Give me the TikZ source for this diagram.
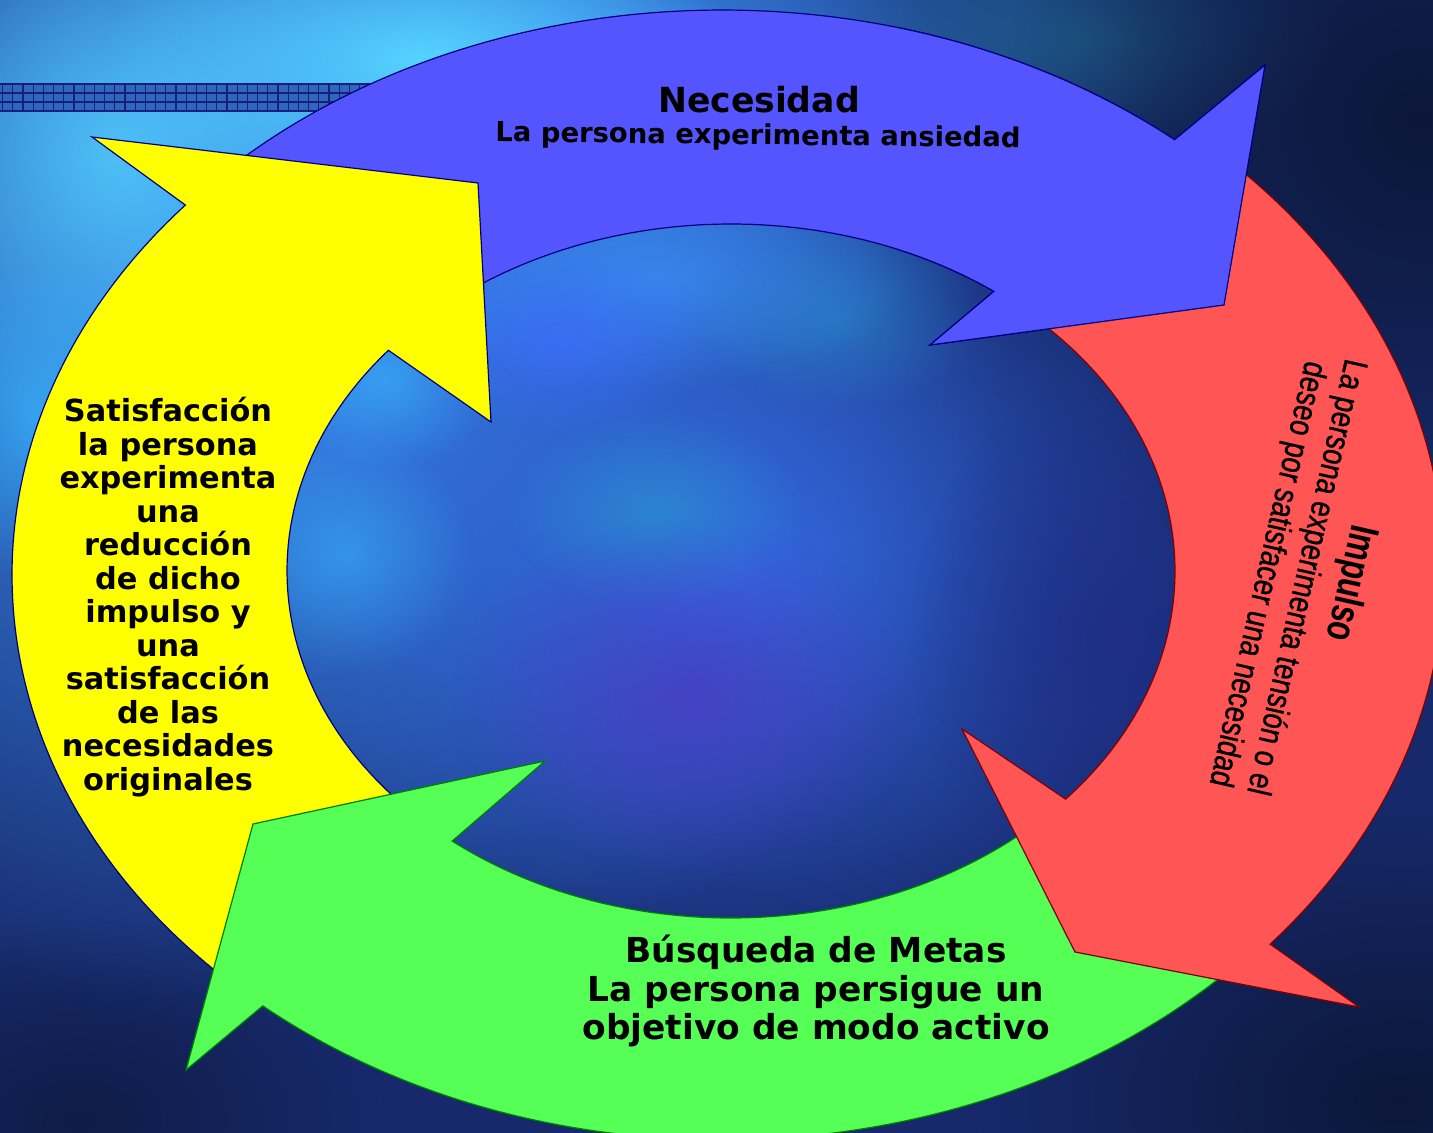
\documentclass[tikz,border=0pt]{standalone}
\usepackage{fontspec}
\newfontfamily\widesans{DejaVu Sans}
\newfontfamily\narrowsans[FakeStretch=0.81,FakeBold=0.8]{Liberation Sans}
\newfontfamily\narrowsansbold[FakeStretch=0.75]{Liberation Sans Bold}
\usetikzlibrary{fadings}

\definecolor{bgnavy}{HTML}{17296B}
\definecolor{arrowblue}{HTML}{5555FF}
\definecolor{arrowyellow}{HTML}{FFFF00}
\definecolor{arrowgreen}{HTML}{55FF55}
\definecolor{arrowred}{HTML}{FF5555}
\definecolor{blueedge}{HTML}{000080}
\definecolor{greenedge}{HTML}{008000}
\definecolor{rededge}{HTML}{800000}
\definecolor{barfill}{HTML}{3066BE}
\definecolor{barline}{HTML}{15207A}
\definecolor{skyblue}{HTML}{3B8EF5}
\definecolor{cyanglow}{HTML}{55D4FF}
\definecolor{cyanspot}{HTML}{38B8FF}
\definecolor{tealspot}{HTML}{2A92D0}
\definecolor{midblue}{HTML}{3468E2}
\definecolor{brightblue}{HTML}{3D6BFF}
\definecolor{violet}{HTML}{4A3CC4}
\definecolor{inkblue}{HTML}{1E2C84}
\definecolor{deepnavy}{HTML}{0C1738}
\definecolor{tealdark}{HTML}{1F5A8A}

\tikzfading[name=softblob, inner color=transparent!0, outer color=transparent!100]

% outline of the top (blue) arrow, reused to lay its head over the red one
\newcommand\bluearrowpath{([shift={(O)}]-136:710 and 565)
  arc[start angle=-136,end angle=-50.4,x radius=710,y radius=565]
  -- (bTip) -- (bCorner) -- (bLow)
  -- ([shift={(I)}]-53.7:444 and 347)
  arc[start angle=-53.7,end angle=-131,x radius=444,y radius=347] -- cycle}

\begin{document}
\begin{tikzpicture}[x=0.5pt,y=-0.5pt,
  blob/.style={path fading=softblob},
  edge/.style={line width=0.6pt, line join=miter, miter limit=10},
  bluearrow/.style={edge, fill=arrowblue, draw=blueedge},
  yellowarrow/.style={edge, fill=arrowyellow, draw=blueedge},
  greenarrow/.style={edge, fill=arrowgreen, draw=greenedge},
  redarrow/.style={edge, fill=arrowred, draw=rededge},
  label/.style={inner sep=0pt, text=black},
  title/.style={label, font=\widesans\bfseries\fontsize{17.3}{20}\selectfont},
  subtitle/.style={label, font=\widesans\bfseries\fontsize{13.7}{16}\selectfont},
  sidetext/.style={label, align=center, font=\widesans\bfseries\fontsize{15.2}{16.75}\selectfont},
  bottomtext/.style={label, align=center, font=\widesans\bfseries\fontsize{17.2}{19.3}\selectfont},
  impulsotitle/.style={label, font=\narrowsansbold\fontsize{20.5}{22}\selectfont},
  impulsoline/.style={label, font=\narrowsans\fontsize{17}{19}\selectfont},
]
\useasboundingbox (0,0) rectangle (1433,1133);

% ---- cloudy background ----
\begin{scope}
  \clip (0,0) rectangle (1433,1133);
  \fill[bgnavy] (0,0) rectangle (1433,1133);
  \fill[blob, skyblue] (250,330) ellipse [x radius=760, y radius=700];
  \fill[blob, skyblue] (560,80) ellipse [x radius=600, y radius=300];
  \fill[blob, cyanglow, opacity=0.8] (120,150) ellipse [x radius=300, y radius=300];
  \fill[blob, cyanglow] (420,60) ellipse [x radius=320, y radius=160];
  \fill[blob, cyanspot, opacity=0.7] (40,420) ellipse [x radius=140, y radius=160];
  \fill[blob, midblue] (730,570) ellipse [x radius=520, y radius=420];
  \fill[blob, skyblue, opacity=0.8] (650,280) ellipse [x radius=260, y radius=110];
  \fill[blob, brightblue, opacity=0.7] (560,340) ellipse [x radius=150, y radius=100];
  \fill[blob, cyanspot, opacity=0.55] (345,555) ellipse [x radius=130, y radius=120];
  \fill[blob, cyanspot, opacity=0.6] (385,380) ellipse [x radius=110, y radius=90];
  \fill[blob, tealspot, opacity=0.7] (655,510) ellipse [x radius=150, y radius=100];
  \fill[blob, tealspot, opacity=0.5] (840,320) ellipse [x radius=140, y radius=90];
  \fill[blob, violet, opacity=0.8] (690,700) ellipse [x radius=240, y radius=180];
  \fill[blob, inkblue, opacity=0.8] (1110,640) ellipse [x radius=200, y radius=260];
  \fill[blob, tealdark] (1080,40) ellipse [x radius=260, y radius=120];
  \fill[blob, deepnavy] (1420,120) ellipse [x radius=420, y radius=420];
  \fill[blob, deepnavy] (1400,1100) ellipse [x radius=420, y radius=300];
  \fill[blob, deepnavy, opacity=0.7] (80,1120) ellipse [x radius=300, y radius=200];
\end{scope}

% ---- checkered bar at the top left ----
\fill[barfill] (0,84) rectangle (380,111);
\foreach \gy in {84,93,102,111}
  \draw[barline, line width=0.6pt] (0,\gy) -- (380,\gy);
\foreach \gx in {2.5,12.7,...,380}
  \draw[barline, line width=0.6pt] (\gx,84) -- (\gx,111);

% ---- ring geometry ----
\coordinate (O) at (722,575);   % centre of the outer rim
\coordinate (R) at (722,570);   % centre of the outer rim of the red arrow
\coordinate (I) at (731,571);   % centre of the inner rim
\coordinate (bTip) at (1265,65);
\coordinate (bCorner) at (1224,305);
\coordinate (bLow) at (930,345);
\coordinate (yTip) at (92,137);
\coordinate (yCorner) at (478,183);
\coordinate (yLow) at (491,422);
\coordinate (gTip) at (186,1070);
\coordinate (gCorner) at (253,824);
\coordinate (gHigh) at (545,761);
\coordinate (rTip) at (1359,1007);
\coordinate (rCorner) at (1075,952);
\coordinate (rHigh) at (962,729);

% blue arrow: Necesidad
\path[bluearrow] \bluearrowpath;

% yellow arrow: Satisfaccion
\path[yellowarrow] ([shift={(O)}]132:710 and 565)
  arc[start angle=132,end angle=220.9,x radius=710,y radius=565]
  -- (yTip) -- (yCorner) -- (yLow)
  -- ([shift={(I)}]219.5:444 and 347)
  arc[start angle=219.5,end angle=135,x radius=444,y radius=347] -- cycle;

% green arrow: Busqueda de metas
\path[greenarrow] ([shift={(O)}]43:710 and 565)
  arc[start angle=43,end angle=130.3,x radius=710,y radius=565]
  -- (gTip) -- (gCorner) -- (gHigh)
  -- ([shift={(I)}]128.9:444 and 347)
  arc[start angle=128.9,end angle=44,x radius=444,y radius=347] -- cycle;

% red arrow: Impulso
\path[redarrow] ([shift={(R)}]-48:722 and 575)
  arc[start angle=-48,end angle=40.6,x radius=722,y radius=575]
  -- (rTip) -- (rCorner) -- (rHigh)
  -- ([shift={(I)}]41.1:444 and 347)
  arc[start angle=41.1,end angle=-48,x radius=444,y radius=347] -- cycle;

% head of the blue arrow lies over the tail of the red one
\begin{scope}
  \clip (900,0) rectangle (1433,500);
  \path[bluearrow] \bluearrowpath;
\end{scope}

% ---- texts ----
\node[title] (necesidad) at (759,100) {Necesidad};
\node[subtitle, rotate=-0.6] (ansiedad) at (758,137) {La persona experimenta ansiedad};

\node[sidetext] (satisfaccion) at (168,597) {Satisfacción\\la persona\\experimenta\\una\\reducción\\de dicho\\impulso y\\una\\satisfacción\\de las\\necesidades\\originales};

\node[bottomtext] (metas) at (816,991) {Búsqueda de Metas\\La persona persigue un\\objetivo de modo activo};

\node[impulsotitle, rotate=-102.75] (impulso) at (1350,583) {Impulso};
\node[impulsoline, rotate=-102.75] (tension) at (1305,577) {La persona experimenta tensión o el};
\node[impulsoline, rotate=-102.75] (deseo) at (1266,574) {deseo por satisfacer una necesidad};
\end{tikzpicture}
\end{document}
